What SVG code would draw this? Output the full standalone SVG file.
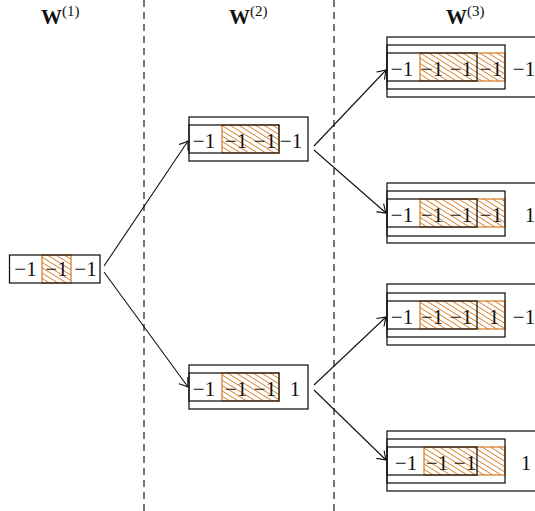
<svg xmlns="http://www.w3.org/2000/svg" width="535" height="511" viewBox="0 0 535 511">
  <defs>
    <pattern id="hatch" patternUnits="userSpaceOnUse" width="4.5" height="4.5" patternTransform="rotate(32)">
      <line x1="0" y1="2.25" x2="4.5" y2="2.25" stroke="#d9822b" stroke-width="0.9"/>
    </pattern>
    <marker id="arr" markerUnits="userSpaceOnUse" markerWidth="16" markerHeight="16" viewBox="-10 -8 12 16" refX="0" refY="0" orient="auto">
      <path d="M -8 -5.5 Q -2 -1.2 0 0 Q -2 1.2 -8 5.5" fill="none" stroke="#111" stroke-width="1.1"/>
    </marker>
  </defs>
  <style>
    .box { fill: none; stroke: #1a1a1a; stroke-width: 1.3; }
    .hat { fill: url(#hatch); stroke: #d2761e; stroke-width: 1.2; }
    .num { font-family: "Liberation Serif", "Times New Roman", serif; font-size: 21px; fill: #111; text-anchor: middle; }
    .ttl { font-family: "Liberation Serif", "Times New Roman", serif; font-size: 21px; font-weight: bold; fill: #111; }
    .sup { font-size: 15px; font-weight: normal; }
    .sep { stroke: #1a1a1a; stroke-width: 1.2; stroke-dasharray: 7 5; }
    .edge { fill: none; stroke: #111; stroke-width: 1.1; marker-end: url(#arr); }
  </style>

  <!-- column separators -->
  <g id="separators">
    <line class="sep" x1="144" y1="0" x2="144" y2="511"/>
    <line class="sep" x1="334" y1="0" x2="334" y2="511"/>
  </g>

  <!-- column titles -->
  <g id="titles">
    <text class="ttl" x="41" y="24">W<tspan class="sup" dy="-8">(1)</tspan></text>
    <text class="ttl" x="229" y="24">W<tspan class="sup" dy="-8">(2)</tspan></text>
    <text class="ttl" x="446" y="24">W<tspan class="sup" dy="-8">(3)</tspan></text>
  </g>

  <!-- level 1 -->
  <g id="w1">
    <rect class="hat" x="42" y="255" width="29" height="28"/>
    <rect class="box" x="9.5" y="255" width="90.5" height="28"/>
    <text class="num" x="25.5" y="276">−1</text>
    <text class="num" x="56.5" y="276">−1</text>
    <text class="num" x="85.5" y="276">−1</text>
  </g>

  <!-- level 2 -->
  <g id="w2-top">
    <rect class="hat" x="222" y="125" width="57" height="28"/>
    <rect class="box" x="189" y="117" width="119" height="44"/>
    <rect class="box" x="189" y="125" width="90" height="28"/>
    <text class="num" x="204" y="148">−1</text>
    <text class="num" x="236" y="148">−1</text>
    <text class="num" x="265" y="148">−1</text>
    <text class="num" x="291" y="148">−1</text>
  </g>

  <g id="w2-bottom">
    <rect class="hat" x="222" y="373" width="57" height="28"/>
    <rect class="box" x="189" y="365" width="119" height="44"/>
    <rect class="box" x="189" y="373" width="90" height="28"/>
    <text class="num" x="204" y="396">−1</text>
    <text class="num" x="236" y="396">−1</text>
    <text class="num" x="265" y="396">−1</text>
    <text class="num" x="295" y="396">1</text>
  </g>

  <!-- level 3 -->
  <g id="w3-a">
    <rect class="hat" x="420" y="53" width="85" height="28"/>
    <rect class="box" x="387" y="37" width="160" height="60"/>
    <rect class="box" x="387" y="45" width="118" height="44"/>
    <rect class="box" x="387" y="53" width="90" height="28"/>
    <text class="num" x="402" y="76">−1</text>
    <text class="num" x="432" y="76">−1</text>
    <text class="num" x="461" y="76">−1</text>
    <text class="num" x="491" y="76">−1</text>
    <text class="num" x="524" y="76">−1</text>
  </g>

  <g id="w3-b">
    <rect class="hat" x="420" y="199" width="85" height="28"/>
    <rect class="box" x="387" y="183" width="160" height="60"/>
    <rect class="box" x="387" y="191" width="118" height="45"/>
    <rect class="box" x="387" y="199" width="90" height="28"/>
    <text class="num" x="402" y="222">−1</text>
    <text class="num" x="432" y="222">−1</text>
    <text class="num" x="461" y="222">−1</text>
    <text class="num" x="491" y="222">−1</text>
    <text class="num" x="530" y="222">1</text>
  </g>

  <g id="w3-c">
    <rect class="hat" x="420" y="301" width="85" height="28"/>
    <rect class="box" x="387" y="284" width="160" height="61"/>
    <rect class="box" x="387" y="293" width="118" height="44"/>
    <rect class="box" x="387" y="301" width="90" height="28"/>
    <text class="num" x="402" y="324">−1</text>
    <text class="num" x="432" y="324">−1</text>
    <text class="num" x="461" y="324">−1</text>
    <text class="num" x="494" y="324">1</text>
    <text class="num" x="524" y="324">−1</text>
  </g>

  <g id="w3-d">
    <rect class="hat" x="424" y="447" width="81" height="28"/>
    <rect class="box" x="387" y="431" width="160" height="60"/>
    <rect class="box" x="387" y="439" width="118" height="44"/>
    <rect class="box" x="387" y="447" width="90" height="28"/>
    <text class="num" x="406" y="470">−1</text>
    <text class="num" x="437" y="470">−1</text>
    <text class="num" x="465" y="470">−1</text>
    <text class="num" x="526" y="470">1</text>
  </g>

  <!-- connectors -->
  <g id="connectors">
    <line class="edge" x1="104" y1="266" x2="188" y2="141"/>
    <line class="edge" x1="104" y1="272" x2="188" y2="387"/>
    <line class="edge" x1="314" y1="146" x2="386" y2="70"/>
    <line class="edge" x1="314" y1="150" x2="386" y2="213"/>
    <line class="edge" x1="314" y1="385" x2="386" y2="317"/>
    <line class="edge" x1="314" y1="390" x2="386" y2="460"/>
  </g>
</svg>
